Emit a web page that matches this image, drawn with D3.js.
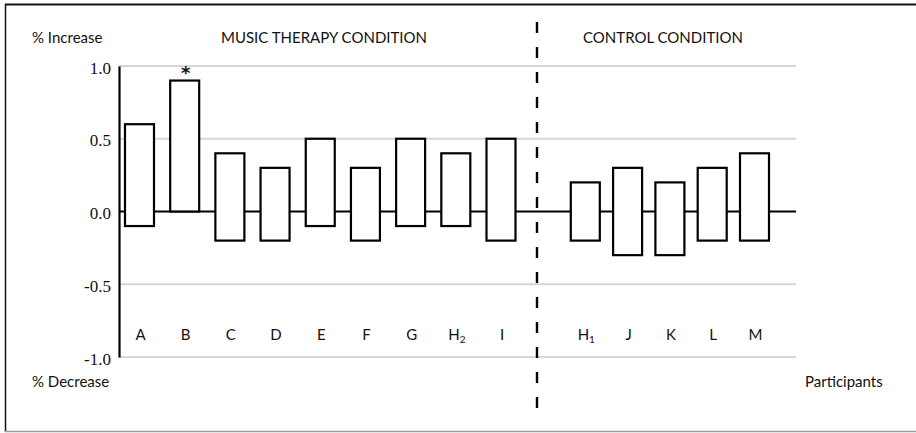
<!DOCTYPE html>
<html>
<head>
<meta charset="utf-8">
<script src="https://cdn.jsdelivr.net/npm/d3@7"></script>
<style>
  html, body { margin: 0; padding: 0; background: #fff; }
  svg { display: block; }
  .sans { font-family: Lato, "Open Sans", sans-serif; fill: #111; }
  .serif { font-family: "Liberation Serif", "Times New Roman", serif; fill: #111; }
</style>
</head>
<body>
<svg id="chart" width="916" height="433"></svg>
<script>
// ---- data ----
const musicParticipants   = ["A", "B", "C", "D", "E", "F", "G", "H_2", "I"];
const musicLow            = [-0.1, 0.0, -0.2, -0.2, -0.1, -0.2, -0.1, -0.1, -0.2];
const musicHigh           = [0.6, 0.9, 0.4, 0.3, 0.5, 0.3, 0.5, 0.4, 0.5];
const controlParticipants = ["H_1", "J", "K", "L", "M"];
const controlLow          = [-0.2, -0.3, -0.3, -0.2, -0.2];
const controlHigh         = [0.2, 0.3, 0.2, 0.3, 0.4];
const significant         = ["B"];
const yTicks              = [-1.0, -0.5, 0.0, 0.5, 1.0];
const groupTitles         = ["MUSIC THERAPY CONDITION", "CONTROL CONDITION"];

// ---- layout ----
const svg = d3.select("#chart");
const plotLeft = 119, plotRight = 796, plotTop = 66, plotBottom = 357;
const barW = 29;
const dividerX = 537;
const fs = 15;

const y = d3.scaleLinear().domain([-1, 1]).range([plotBottom, plotTop]);
const xMusic = d3.scalePoint().domain(musicParticipants).range([139.5, 501]);
const xControl = d3.scalePoint().domain(controlParticipants).range([585.3, 754.5]);

// frame
svg.append("line").attr("x1", 5).attr("x2", 916).attr("y1", 4.5).attr("y2", 4.5)
  .attr("stroke", "#111").attr("stroke-width", 2);
svg.append("line").attr("x1", 5.5).attr("x2", 5.5).attr("y1", 4).attr("y2", 432)
  .attr("stroke", "#111").attr("stroke-width", 1.5);
svg.append("line").attr("x1", 5).attr("x2", 916).attr("y1", 431.5).attr("y2", 431.5)
  .attr("stroke", "#9a9a9a").attr("stroke-width", 1.5);

// gridlines
svg.append("g").selectAll("line").data(yTicks.filter(d => d !== 0)).join("line")
  .attr("x1", plotLeft).attr("x2", plotRight)
  .attr("y1", d => y(d)).attr("y2", d => y(d))
  .attr("stroke", "#d6d6d6").attr("stroke-width", 2);

// zero line
svg.append("line").attr("x1", plotLeft).attr("x2", plotRight)
  .attr("y1", y(0)).attr("y2", y(0))
  .attr("stroke", "#000").attr("stroke-width", 2.2);

// y axis
const fmt = d3.format(".1f");
const yAxis = d3.axisLeft(y).tickValues(yTicks).tickFormat(d => fmt(d).replace("\u2212", "-"))
  .tickSize(0).tickSizeOuter(0).tickPadding(8);
const gy = svg.append("g").attr("transform", `translate(${plotLeft},0)`).call(yAxis);
gy.attr("font-family", null).attr("font-size", null);
gy.select(".domain").attr("stroke", "#000").attr("stroke-width", 2.2);
gy.selectAll("text")
  .attr("class", "serif")
  .style("font-family", "'Liberation Serif', 'Times New Roman', serif")
  .style("font-size", "17px").attr("fill", "#111").attr("dy", "0.42em");

// bars
function drawGroup(names, low, high, x) {
  const rows = names.map((n, i) => ({ n, lo: low[i], hi: high[i] }));
  svg.append("g").selectAll("rect").data(rows).join("rect")
    .attr("x", d => x(d.n) - barW / 2)
    .attr("width", barW)
    .attr("y", d => y(d.hi))
    .attr("height", d => y(d.lo) - y(d.hi))
    .attr("fill", "#fff").attr("stroke", "#000").attr("stroke-width", 2.2);

  const lab = svg.append("g").selectAll("text").data(rows).join("text")
    .attr("class", "sans")
    .attr("x", d => x(d.n) + 1).attr("y", 340)
    .attr("text-anchor", "middle").attr("font-size", fs);
  lab.each(function (d) {
    const [base, sub] = d.n.split("_");
    const t = d3.select(this);
    t.append("tspan").text(base);
    if (sub) t.append("tspan").text(sub).attr("font-size", 10).attr("dy", 3);
  });

  svg.append("g").selectAll("text").data(rows.filter(d => significant.includes(d.n))).join("text")
    .attr("x", d => x(d.n) + 1).attr("y", d => y(d.hi) - 2)
    .attr("text-anchor", "middle")
    .style("font-family", "'DejaVu Sans', sans-serif").style("font-size", "18px")
    .style("font-weight", "bold")
    .attr("fill", "#111")
    .text("*");
}
drawGroup(musicParticipants, musicLow, musicHigh, xMusic);
drawGroup(controlParticipants, controlLow, controlHigh, xControl);

// divider
svg.append("line").attr("x1", dividerX).attr("x2", dividerX)
  .attr("y1", 22).attr("y2", 416)
  .attr("stroke", "#000").attr("stroke-width", 2.4)
  .attr("stroke-dasharray", "11 14");

// titles
svg.append("text").attr("class", "sans").attr("x", 324).attr("y", 43)
  .attr("text-anchor", "middle").attr("font-size", fs).text(groupTitles[0]);
svg.append("text").attr("class", "sans").attr("x", 663).attr("y", 43)
  .attr("text-anchor", "middle").attr("font-size", fs).text(groupTitles[1]);
svg.append("text").attr("class", "sans").attr("x", 32).attr("y", 43)
  .attr("font-size", fs).text("% Increase");
svg.append("text").attr("class", "sans").attr("x", 32).attr("y", 387)
  .attr("font-size", fs).text("% Decrease");
svg.append("text").attr("class", "sans").attr("x", 805).attr("y", 387)
  .attr("font-size", fs).text("Participants");
</script>
</body>
</html>
